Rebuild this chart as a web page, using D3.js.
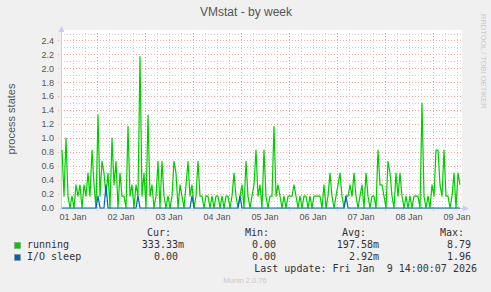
<!DOCTYPE html>
<html><head><meta charset="utf-8">
<script src="https://cdn.jsdelivr.net/npm/d3@7"></script>
<style>
html,body{margin:0;padding:0;background:#f0f0f0;}
svg{display:block;}
text{white-space:pre;}
</style></head>
<body>
<script>
// ---- data (hourly averages, Jan 1 06:00 -> Jan 9 14:00) ----
const running = [
 0.83,0.17,1.0,0.17,0,0.17,0,0.33,0.17,0.33,
 0,0.33,0.17,0.5,0.17,0.83,0.33,0,1.33,0.17,
 0.67,0.5,0.17,0.5,0,1.0,0.33,0.67,0,0.5,
 0.17,0.17,0,1.17,0.17,0.33,0,0.33,0.17,2.17,
 0.17,0.5,0,1.33,0.17,0.33,0,0.17,0.67,0,
 0.67,0.17,0,0.17,0,0.17,0.67,0.5,0,0.33,
 0.17,0,0.33,0.67,0.17,0.33,0,0.17,0.67,0.17,
 0.17,0,0.17,0.17,0,0.17,0,0.17,0.17,0,
 0.17,0,0.17,0.17,0,0.17,0.5,0.17,0,0.17,
 0.33,0,0.67,0.17,0,0.17,0.33,0.83,0.17,0.33,
 0,0.83,0.17,0,0.17,0.17,1.17,0.17,0.33,0.17,
 0,0.17,0,0.17,0.17,0.17,0.33,0.17,0,0.17,
 0,0.17,0.17,0,0.17,0,0.17,0.17,0.17,0.17,
 0,0.33,0,0.17,0.5,0.17,0,0.17,0.33,0.5,
 0.17,0,0.17,0.17,0.33,0.17,0.5,0.17,0,0.17,
 0.33,0,0.5,0.17,0,0.17,0.17,0,0.83,0.33,
 0.33,0.17,0,0.67,0.5,0.17,0,0.5,0.17,0.5,
 0.17,0,0.17,0,0.17,0,0.17,0.17,0.17,0,
 1.5,0.17,0,0.17,0,0.33,0.17,0.83,0.83,0.33,
 0.17,0.83,0.17,0.17,0,0.17,0.5,0,0.5,0.33
];
const ioSleep = [
 0,0,0,0,0,0,0,0,0,0,
 0,0,0,0,0,0,0,0,0.17,0,
 0,0,0.33,0,0,0,0,0,0,0,
 0,0,0,0,0,0,0,0,0.17,0,
 0,0,0,0,0,0,0,0,0,0,
 0,0,0,0,0,0,0,0,0,0,
 0,0,0,0,0,0.17,0,0,0,0,
 0,0,0,0,0,0,0,0,0,0,
 0,0,0,0,0,0,0,0,0,0.17,
 0,0,0,0,0,0,0,0,0,0,
 0,0,0,0,0,0,0,0,0,0,
 0,0,0,0,0,0,0,0,0,0,
 0,0,0,0,0,0,0,0,0,0,
 0,0,0,0,0,0,0,0,0,0,
 0,0,0.17,0,0,0,0,0,0,0,
 0,0,0,0,0,0,0,0,0,0,
 0,0,0,0,0,0,0,0,0,0,
 0,0,0,0,0,0,0,0,0,0,
 0,0,0,0,0,0,0,0,0,0,
 0,0,0,0,0,0,0,0,0,0
];
const seriesNames = ["running","I/O sleep"];
const seriesColors = ["#00cc00","#0066b3"];
const curVals = ["333.33m","0.00"];
const minVals = ["0.00","0.00"];
const avgVals = ["197.58m","2.92m"];
const maxVals = ["8.79","1.96"];
const yTicks = [0,0.2,0.4,0.6,0.8,1.0,1.2,1.4,1.6,1.8,2.0,2.2,2.4];
const dayLabels = ["01 Jan","02 Jan","03 Jan","04 Jan","05 Jan","06 Jan","07 Jan","08 Jan","09 Jan"];
const title = "VMstat - by week";
const yTitle = "process states";
const lastUpdate = "Last update: Fri Jan  9 14:00:07 2026";

const W=491,H=292;
const t0 = new Date(2026,0,1,6,0,0), t1 = new Date(2026,0,9,14,0,0);
const HOUR=3600e3;
const x = d3.scaleTime().domain([t0,t1]).range([61,461]);
const y = d3.scaleLinear().domain([0,2.5]).range([208,33.5]);

const svg = d3.select("body").append("svg").attr("width",W).attr("height",H);
svg.append("rect").attr("width",W).attr("height",H).attr("fill","#f0f0f0");
svg.append("rect").attr("x",61).attr("y",30).attr("width",401).attr("height",178).attr("fill","#fff");

const sans="'Liberation Sans', Arial, sans-serif", mono="'DejaVu Sans Mono', monospace";

// grid minor
const g = svg.append("g");
const minorY = d3.range(1,26).map(i=>i/10);
g.selectAll(".hy").data(minorY).join("line")
  .attr("x1",61).attr("x2",462).attr("y1",d=>Math.round(y(d))+0.5).attr("y2",d=>Math.round(y(d))+0.5)
  .attr("stroke","#d0d0d0").attr("stroke-dasharray","1,2");
const minorX = d3.timeHour.every(6).range(t0, t1);
g.selectAll(".vx").data(minorX.filter(d=>d>t0)).join("line")
  .attr("y1",33).attr("y2",208).attr("x1",d=>Math.round(x(d))+0.5).attr("x2",d=>Math.round(x(d))+0.5)
  .attr("stroke","#d0d0d0").attr("stroke-dasharray","1,2");
// grid major
g.selectAll(".my").data(yTicks.filter(d=>d>0)).join("line")
  .attr("x1",58).attr("x2",462).attr("y1",d=>Math.round(y(d))+0.5).attr("y2",d=>Math.round(y(d))+0.5)
  .attr("stroke","#f4a0a0").attr("stroke-dasharray","1,2");
const days = d3.timeDay.range(new Date(2026,0,2), t1);
g.selectAll(".mx").data(days).join("line")
  .attr("y1",33).attr("y2",211).attr("x1",d=>Math.round(x(d))+0.5).attr("x2",d=>Math.round(x(d))+0.5)
  .attr("stroke","#f4a0a0").attr("stroke-dasharray","1,2");

// axes
const axisCol="#c6cdf3";
svg.append("line").attr("x1",61.5).attr("x2",61.5).attr("y1",30).attr("y2",209).attr("stroke",axisCol);
svg.append("line").attr("x1",60).attr("x2",464).attr("y1",208.5).attr("y2",208.5).attr("stroke",axisCol);
svg.append("path").attr("d","M58.5,32 L64.5,32 L61.5,26 Z").attr("fill",axisCol);
svg.append("path").attr("d","M463,205.5 L463,211.5 L469,208.5 Z").attr("fill",axisCol);

// y tick labels
svg.selectAll(".yl").data(yTicks).join("text")
  .attr("x",54).attr("y",d=>y(d)).attr("dy","0.35em").attr("text-anchor","end")
  .attr("font-family",sans).attr("font-size",9).attr("fill","#555")
  .text(d=>d.toFixed(1));
// x labels at noon
const noons = dayLabels.map((l,i)=>({l, t:new Date(2026,0,1+i,12)}));
svg.selectAll(".xl").data(noons).join("text")
  .attr("x",d=>x(d.t)).attr("y",219.5).attr("text-anchor","middle")
  .attr("font-family",sans).attr("font-size",9).attr("fill","#555")
  .text(d=>d.l);

// lines
const line = d3.line().x((d,i)=>x(new Date(t0.getTime()+(i+0.5)*HOUR))).y(d=>y(d));
svg.append("path").datum(running).attr("d",line).attr("fill","none")
  .attr("stroke",seriesColors[0]).attr("stroke-width",1.2).attr("stroke-linejoin","round");
svg.append("path").datum(ioSleep).attr("d",line).attr("fill","none")
  .attr("stroke",seriesColors[1]).attr("stroke-width",1.2).attr("stroke-linejoin","round");

// titles
svg.append("text").attr("x",246).attr("y",16).attr("text-anchor","middle")
  .attr("font-family",sans).attr("font-size",12).attr("fill","#555").text(title);
svg.append("text").attr("transform","translate(15,119) rotate(-90)").attr("text-anchor","middle")
  .attr("font-family",sans).attr("font-size",11).attr("fill","#555").text(yTitle);
svg.append("text").attr("transform","translate(481,14) rotate(90)").attr("text-anchor","start")
  .attr("font-family",sans).attr("font-size",7.5).attr("fill","#c8c8c8").text("RRDTOOL / TOBI OETIKER");

// legend
const lg = svg.append("g").attr("font-family",mono).attr("font-size",10).attr("fill","#333");
const cols=[{h:"Cur:",end:184,v:curVals},{h:"Min:",end:282,v:minVals},{h:"Avg:",end:379,v:avgVals},{h:"Max:",end:477,v:maxVals}];
cols.forEach(c=>{
  lg.append("text").attr("x",c.end-13).attr("y",236).attr("text-anchor","end").text(c.h);
  c.v.forEach((v,i)=>{
    const hasUnit=/[a-zA-Z]$/.test(v);
    lg.append("text").attr("x",hasUnit?c.end:c.end-6).attr("y",248+i*12).attr("text-anchor","end").text(v);
  });
});
seriesNames.forEach((n,i)=>{
  lg.append("rect").attr("x",14.5).attr("y",242.5+i*12).attr("width",6).attr("height",6)
    .attr("fill",seriesColors[i]).attr("stroke","#888").attr("stroke-width",0.5);
  lg.append("text").attr("x",27).attr("y",248+i*12).text(n);
});
lg.append("text").attr("x",477).attr("y",272).attr("text-anchor","end").text(lastUpdate);
svg.append("text").attr("x",245).attr("y",283).attr("text-anchor","middle")
  .attr("font-family",sans).attr("font-size",7.5).attr("fill","#c8c8c8").text("Munin 2.0.76");
</script>
</body></html>
